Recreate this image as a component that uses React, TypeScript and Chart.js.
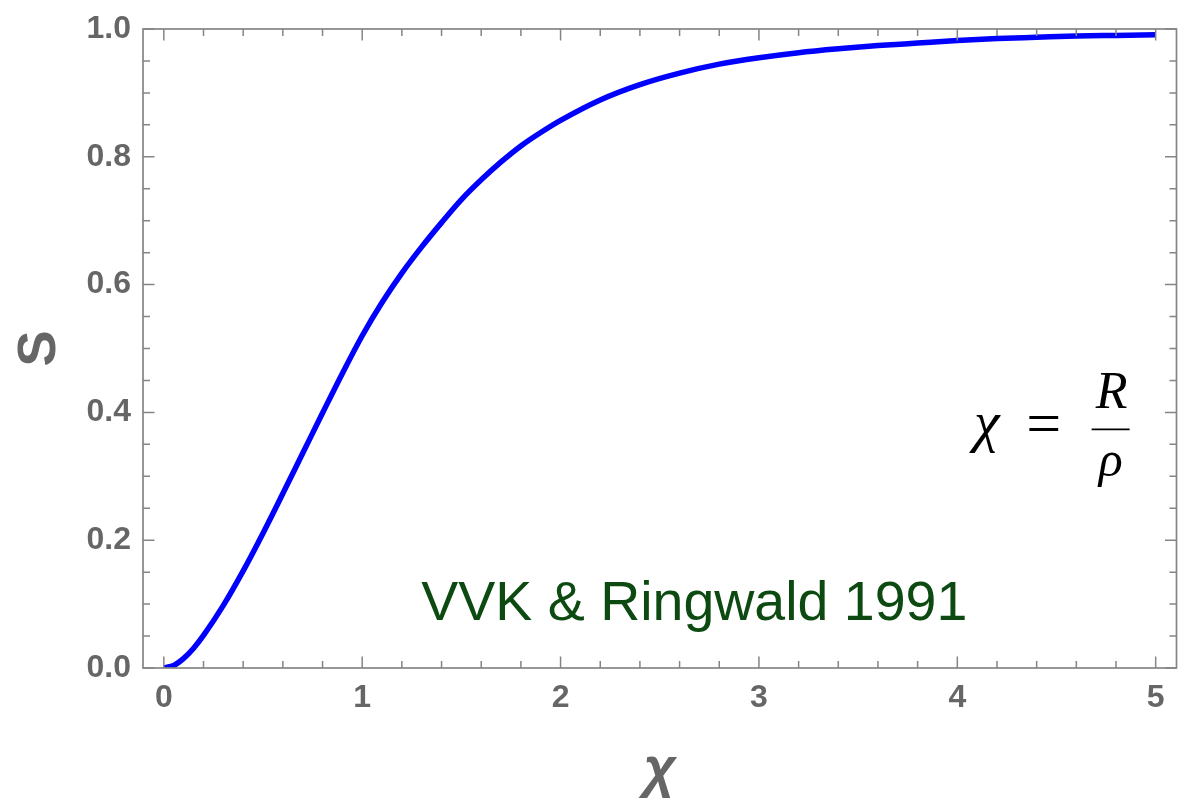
import React, { useEffect, useRef } from 'react';
import { Chart, registerables } from 'chart.js';

Chart.register(...registerables);

// ---- data ----
const chiValues = [
  0, 0.05, 0.1, 0.15, 0.2, 0.3, 0.4, 0.5, 0.6, 0.7, 0.8, 0.9, 1.0, 1.1, 1.2, 1.3, 1.4,
  1.5, 1.6, 1.7, 1.8, 1.9, 2.0, 2.2, 2.4, 2.6, 2.8, 3.0, 3.2, 3.4, 3.6, 3.8, 4.0, 4.2,
  4.4, 4.6, 4.8, 5.0,
];
const sValues = [
  0, 0.004, 0.015, 0.031, 0.051, 0.098, 0.152, 0.211, 0.273, 0.336, 0.399, 0.461, 0.52,
  0.572, 0.618, 0.659, 0.697, 0.733, 0.764, 0.792, 0.817, 0.838, 0.857, 0.889, 0.913,
  0.931, 0.945, 0.955, 0.963, 0.969, 0.974, 0.978, 0.982, 0.985, 0.987, 0.989, 0.99,
  0.991,
];
const xTickValues = [0, 1, 2, 3, 4, 5];
const xTickLabels = ['0', '1', '2', '3', '4', '5'];
const yTickValues = [0, 0.2, 0.4, 0.6, 0.8, 1.0];
const yTickLabels = ['0.0', '0.2', '0.4', '0.6', '0.8', '1.0'];
const xTitle = 'χ';
const yTitle = 'S';
const sourceLabel = 'VVK & Ringwald 1991';
const sourceAnchor = [2.674, 0.075];
const formulaAnchor = [4.773, 0.3735];

const frameColor = '#858585';

const framePlugin = {
  id: 'mmaFrame',
  afterDatasetsDraw(chart: any) {
    const { ctx, chartArea, scales } = chart;
    const { left, right, top, bottom } = chartArea;
    const x = scales.x;
    const y = scales.y;
    ctx.save();
    ctx.strokeStyle = frameColor;
    ctx.lineWidth = 1.5;
    ctx.beginPath();
    for (let i = 0; i <= 25; i++) {
      const px = x.getPixelForValue(i * 0.2);
      const len = i % 5 === 0 ? 11.5 : 7;
      ctx.moveTo(px, bottom);
      ctx.lineTo(px, bottom - len);
      ctx.moveTo(px, top);
      ctx.lineTo(px, top + len);
    }
    for (let i = 0; i <= 20; i++) {
      const py = y.getPixelForValue(i * 0.05);
      const len = i % 4 === 0 ? 11.5 : 7;
      ctx.moveTo(left, py);
      ctx.lineTo(left + len, py);
      ctx.moveTo(right, py);
      ctx.lineTo(right - len, py);
    }
    ctx.stroke();
    ctx.lineWidth = 1.7;
    ctx.strokeRect(left, top, right - left, bottom - top);
    ctx.restore();
  },
};

const annotationPlugin = {
  id: 'mmaAnnotations',
  afterDraw(chart: any) {
    const { ctx, scales } = chart;
    const x = scales.x;
    const y = scales.y;
    ctx.save();
    // source label
    ctx.fillStyle = '#0d4a12';
    ctx.font = "55.5px 'Liberation Sans'";
    ctx.textAlign = 'center';
    ctx.textBaseline = 'alphabetic';
    ctx.fillText(sourceLabel, x.getPixelForValue(sourceAnchor[0]), y.getPixelForValue(sourceAnchor[1]));

    // formula chi = R / rho
    const fx = x.getPixelForValue(formulaAnchor[0]);
    const fy = y.getPixelForValue(formulaAnchor[1]);
    ctx.fillStyle = '#000';
    ctx.font = "italic 58px 'Liberation Serif'";
    ctx.fillText('χ', fx - 124, fy + 12);
    ctx.font = "62px 'Liberation Serif'";
    ctx.fillText('=', fx - 67, fy + 15);
    ctx.font = "italic 52px 'Liberation Serif'";
    ctx.fillText('R', fx + 1, fy - 21);
    ctx.font = "italic 50px 'Liberation Serif'";
    ctx.fillText('ρ', fx, fy + 47);
    ctx.strokeStyle = '#000';
    ctx.lineWidth = 1.6;
    ctx.beginPath();
    ctx.moveTo(fx - 19, fy);
    ctx.lineTo(fx + 19, fy);
    ctx.stroke();
    ctx.restore();
  },
};

export default function App() {
  const canvasRef = useRef<HTMLCanvasElement | null>(null);

  useEffect(() => {
    document.body.style.margin = '0';
    const canvas = canvasRef.current;
    if (!canvas) return;
    const chart = new Chart(canvas, {
      type: 'scatter',
      data: {
        datasets: [
          {
            data: chiValues.map((c, i) => ({ x: c, y: sValues[i] })),
            showLine: true,
            borderColor: '#0000ff',
            backgroundColor: '#0000ff',
            borderWidth: 5.5,
            pointRadius: 0,
            cubicInterpolationMode: 'monotone',
            borderCapStyle: 'butt',
          } as any,
        ],
      },
      options: {
        animation: false,
        responsive: false,
        devicePixelRatio: 1,
        layout: { padding: { left: 0, top: 29, right: 17.5, bottom: 0 } },
        plugins: { legend: { display: false }, tooltip: { enabled: false } },
        scales: {
          x: {
            type: 'linear',
            min: -0.105,
            max: 5.105,
            afterBuildTicks: (s: any) => {
              s.ticks = xTickValues.map((v) => ({ value: v }));
            },
            afterFit: (s: any) => {
              s.height = 133;
            },
            grid: { display: false },
            border: { display: false },
            ticks: {
              color: '#666',
              font: { family: 'Liberation Sans', weight: 'bold', size: 32 },
              padding: 3,
              autoSkip: false,
              maxRotation: 0,
              callback: (v: any) => {
                const i = xTickValues.indexOf(Number(v));
                return i >= 0 ? xTickLabels[i] : '';
              },
            },
            title: {
              display: true,
              text: xTitle,
              color: '#666',
              font: { family: 'Liberation Sans', size: 56, weight: 'bold', style: 'italic', lineHeight: 1 },
              padding: { top: 0, bottom: 2 },
            },
          },
          y: {
            type: 'linear',
            min: 0,
            max: 1,
            afterBuildTicks: (s: any) => {
              s.ticks = yTickValues.map((v) => ({ value: v }));
            },
            afterFit: (s: any) => {
              s.width = 143;
            },
            grid: { display: false },
            border: { display: false },
            ticks: {
              color: '#666',
              font: { family: 'Liberation Sans', weight: 'bold', size: 32 },
              padding: 4,
              autoSkip: false,
              callback: (v: any) => {
                const i = yTickValues.findIndex((t) => Math.abs(t - Number(v)) < 1e-9);
                return i >= 0 ? yTickLabels[i] : '';
              },
            },
            title: {
              display: true,
              text: yTitle,
              color: '#666',
              font: { family: 'Liberation Sans', size: 54, weight: 'bold', lineHeight: 1 },
              padding: { top: 13, bottom: 0 },
            },
          },
        },
      } as any,
      plugins: [framePlugin, annotationPlugin],
    });
    return () => {
      chart.destroy();
    };
  }, []);

  return (
    <div style={{ width: 1194, height: 801 }}>
      <canvas ref={canvasRef} width={1194} height={801} style={{ display: 'block' }} />
    </div>
  );
}
